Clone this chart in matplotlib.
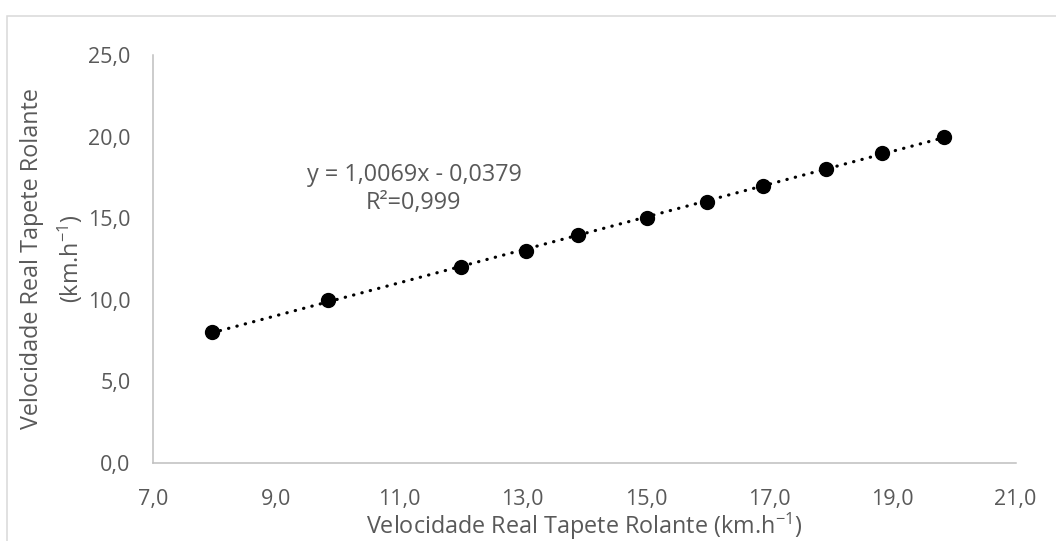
import numpy as np
import matplotlib
matplotlib.use("Agg")
import matplotlib.pyplot as plt
from matplotlib.patches import Rectangle

plt.rcParams['font.family'] = ['Open Sans', 'DejaVu Sans']
plt.rcParams['mathtext.fontset'] = 'custom'
plt.rcParams['mathtext.rm'] = 'Open Sans'

# dados
vel_x = [7.96, 9.85, 12.0, 13.05, 13.9, 15.02, 16.0, 16.9, 17.92, 18.83, 19.84]
vel_y = [8, 10, 12, 13, 14, 15, 16, 17, 18, 19, 20]
x_ticks = [7, 9, 11, 13, 15, 17, 19, 21]
y_ticks = [0, 5, 10, 15, 20, 25]
equacao = "y = 1,0069x - 0,0379\nR²=0,999"

cinza = '#595959'

fig = plt.figure(figsize=(10.56, 5.41), dpi=100)
ax = fig.add_axes([0.1446, 0.1442, 0.8172, 0.7541])

# moldura do gráfico
fig.patches.append(Rectangle((7 / 1056, -0.1), 1.2, 1 - 16 / 541 + 0.1,
                             transform=fig.transFigure, fill=False,
                             edgecolor='#D9D9D9', linewidth=1.1))

# linha de tendência
coef = np.polyfit(vel_x, vel_y, 1)
xs = np.array([min(vel_x), max(vel_x)])
ax.plot(xs, np.polyval(coef, xs), color='black', linewidth=2.3,
        linestyle=(0, (0.1, 2.6)), dash_capstyle='round', zorder=2)

ax.plot(vel_x, vel_y, 'o', color='black', markersize=10, zorder=3)

ax.set_xlim(7, 21)
ax.set_ylim(0, 25)
ax.set_xticks(x_ticks)
ax.set_yticks(y_ticks)
ax.set_xticklabels([f"{v:.1f}".replace('.', ',') for v in x_ticks])
ax.set_yticklabels([f"{v:.1f}".replace('.', ',') for v in y_ticks])
ax.tick_params(length=0, labelsize=15.5, labelcolor=cinza)
ax.tick_params(axis='x', pad=19)
ax.tick_params(axis='y', pad=16)

for s in ['top', 'right']:
    ax.spines[s].set_visible(False)
for s in ['left', 'bottom']:
    ax.spines[s].set_color('#BFBFBF')
    ax.spines[s].set_linewidth(1.1)

ax.set_xlabel(r"Velocidade Real Tapete Rolante (km.h$^{\mathregular{-1}}$)",
              fontsize=16.8, color=cinza, labelpad=0)
ax.set_ylabel("Velocidade Real Tapete Rolante\n" + r"(km.h$^{\mathregular{-1}}$)",
              fontsize=16.8, color=cinza, labelpad=2, linespacing=1.5)

ax.text(414 / 1056, 1 - 189 / 541, equacao, transform=fig.transFigure,
        ha='center', va='center', fontsize=16.8, color=cinza, linespacing=1.2)

fig.savefig("out.png", dpi=100, facecolor='white')
